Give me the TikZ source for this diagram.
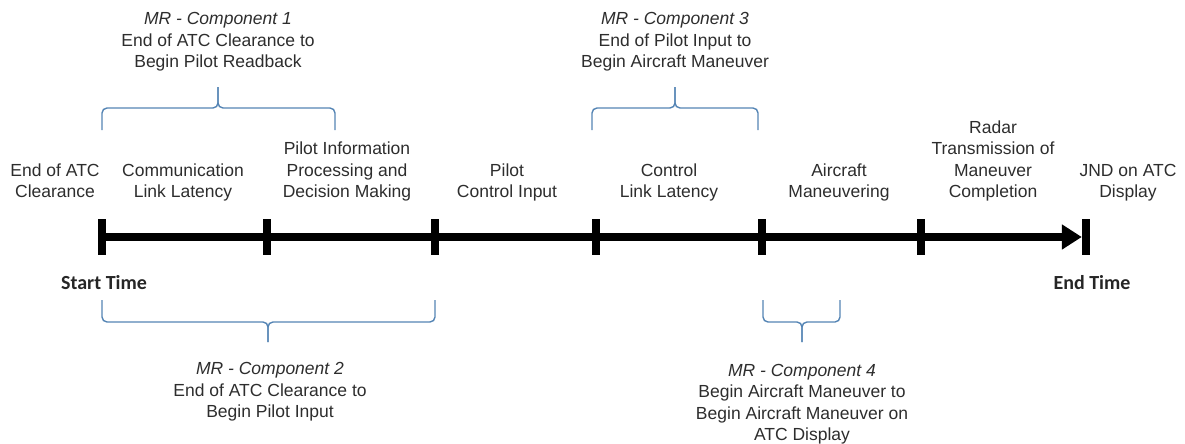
\documentclass[tikz,border=0pt]{standalone}
\usepackage{fontspec}
\setmainfont{Liberation Sans}
\newfontfamily\calfont{Carlito}
\usetikzlibrary{arrows.meta}
\definecolor{bracecol}{RGB}{84,132,180}
\definecolor{txt}{RGB}{45,45,45}
\begin{document}
\begin{tikzpicture}[x=1pt,y=-1pt,
  lbl/.style={font=\fontsize{17.5}{21.5}\selectfont, text=txt, align=center, anchor=south, inner sep=0pt},
  tickmark/.style={fill=black, minimum width=8pt, minimum height=36pt, inner sep=0pt},
  timeline/.style={line width=8pt, -{Triangle[length=20pt,width=24pt]}},
  brace/.style={draw=bracecol, line width=1.4pt, rounded corners=5pt},
  boldlbl/.style={font=\calfont\bfseries\fontsize{20}{24}\selectfont, text=black!85, anchor=base, inner sep=0pt}]
\useasboundingbox (0,0) rectangle (1185,444);

% ticks
\node[tickmark] (t1) at (102,237) {};
\node[tickmark] (t2) at (267,237) {};
\node[tickmark] (t3) at (435,237) {};
\node[tickmark] (t4) at (596,237) {};
\node[tickmark] (t5) at (762,237) {};
\node[tickmark] (t6) at (921,237) {};
\node[tickmark] (t7) at (1086,237) {};
\draw[timeline] (t1.center) -- (t7.west);

% timeline labels
\node[lbl] (l1) at (55,204.5) {End of ATC\\Clearance\strut};
\node[lbl] (l2) at (183,204.5) {Communication\\Link Latency\strut};
\node[lbl] (l3) at (347,204.5) {Pilot Information\\Processing and\\Decision Making\strut};
\node[lbl] (l4) at (507,204.5) {Pilot\\Control Input\strut};
\node[lbl] (l5) at (669,204.5) {Control\\Link Latency\strut};
\node[lbl] (l6) at (839,204.5) {Aircraft\\Maneuvering\strut};
\node[lbl] (l7) at (993,204.5) {Radar\\Transmission of\\Maneuver\\Completion\strut};
\node[lbl] (l8) at (1128,204.5) {JND on ATC\\Display\strut};

\node[boldlbl] (start) at (104,289.5) {Start Time};
\node[boldlbl] (end) at (1092,289.5) {End Time};

% top braces
\draw[brace] (102,130) -- (102,108) -- (218,108) -- (218,87);
\draw[brace] (335,130) -- (335,108) -- (218,108) -- (218,87);
\draw[brace] (592,130) -- (592,108) -- (675,108) -- (675,87);
\draw[brace] (758,130) -- (758,108) -- (675,108) -- (675,87);
% bottom braces
\draw[brace] (102,300) -- (102,322) -- (268,322) -- (268,342);
\draw[brace] (435,300) -- (435,322) -- (268,322) -- (268,342);
\draw[brace] (763,300) -- (763,322) -- (802,322) -- (802,342);
\draw[brace] (840,300) -- (840,322) -- (802,322) -- (802,342);

% component labels
\node[lbl] (c1) at (218,74.5) {\itshape MR - Component 1\\End of ATC Clearance to\\Begin Pilot Readback\strut};
\node[lbl] (c3) at (675,74.5) {\itshape MR - Component 3\\End of Pilot Input to\\Begin Aircraft Maneuver\strut};
\node[lbl] (c2) at (270,424.5) {\itshape MR - Component 2\\End of ATC Clearance to\\Begin Pilot Input\strut};
\node[lbl] (c4) at (802,447.5) {\itshape MR - Component 4\\Begin Aircraft Maneuver to\\Begin Aircraft Maneuver on\\ATC Display\strut};
\end{tikzpicture}
\end{document}
